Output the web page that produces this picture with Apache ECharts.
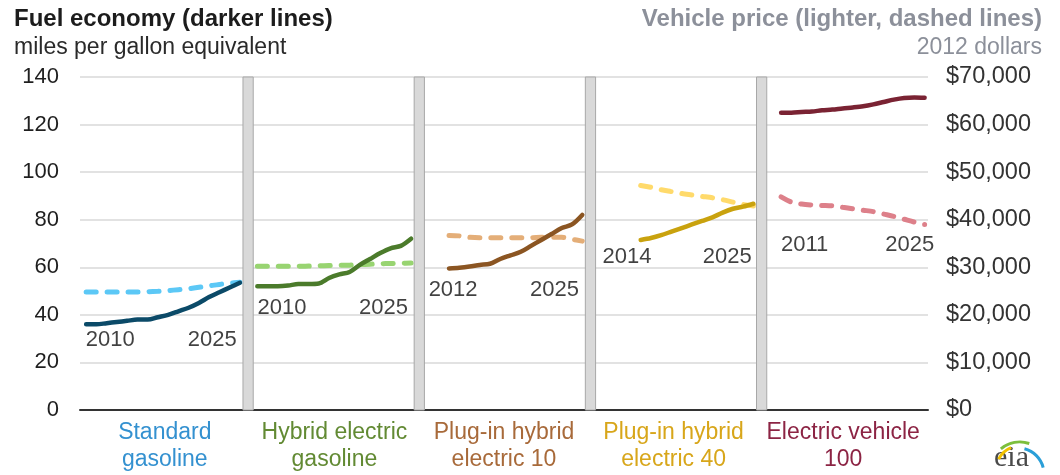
<!DOCTYPE html>
<html><head><meta charset="utf-8">
<script src="https://cdn.jsdelivr.net/npm/echarts@6/dist/echarts.min.js"></script>
<style>html,body{margin:0;padding:0;background:#fff}#c{width:1060px;height:475px}</style>
</head><body><div id="c"></div>
<script>
// ---- data ----
const CATEGORIES = ['Standard\ngasoline', 'Hybrid electric\ngasoline', 'Plug-in hybrid\nelectric 10', 'Plug-in hybrid\nelectric 40', 'Electric vehicle\n100'];
const START_YEARS = [2010, 2010, 2012, 2014, 2011];
const MPG_STD = [36, 36, 36.5, 37, 37.5, 38, 38, 39, 40, 41.5, 43, 45, 47.5, 49.5, 51.5, 53.5];
const PRICE_STD = [24800, 24800, 24800, 24800, 24800, 24800, 24850, 24950, 25100, 25300, 25500, 25800, 26100, 26400, 26650, 26850];
const MPG_HYB = [52, 52, 52, 52.3, 53, 53, 53.2, 55.5, 57, 58, 61, 63.5, 66, 68, 69, 72];
const PRICE_HYB = [30200, 30200, 30200, 30200, 30200, 30250, 30300, 30350, 30400, 30450, 30550, 30650, 30750, 30800, 30850, 30900];
const MPG_PHEV10 = [59.5, 59.8, 60.3, 61, 61.5, 63.5, 65, 66.5, 69, 71.5, 74, 76.5, 78, 82];
const PRICE_PHEV10 = [36700, 36600, 36300, 36200, 36200, 36200, 36200, 36200, 36200, 36300, 36300, 36300, 35900, 35500];
const MPG_PHEV40 = [71.5, 72.3, 73.5, 75, 76.5, 78, 79.5, 81, 83, 84.6, 85.5, 86.7];
const PRICE_PHEV40 = [47200, 46800, 46300, 45900, 45500, 45200, 44900, 44600, 44200, 43700, 43200, 42900];
const MPG_EV = [125, 125, 125.3, 125.5, 126, 126.3, 126.8, 127.2, 127.7, 128.5, 129.5, 130.5, 131.2, 131.4, 131.3];
const PRICE_EV = [44800, 43700, 43300, 43100, 43000, 42900, 42600, 42300, 42000, 41700, 41200, 40700, 40100, 39500, 39000];
const MPG = [MPG_STD, MPG_HYB, MPG_PHEV10, MPG_PHEV40, MPG_EV];
const PRICE = [PRICE_STD, PRICE_HYB, PRICE_PHEV10, PRICE_PHEV40, PRICE_EV];
const LEFT_TICKS = [0, 20, 40, 60, 80, 100, 120, 140];
const RIGHT_TICKS = [0, 10000, 20000, 30000, 40000, 50000, 60000, 70000];
// year tags: [panel, text, year position, level on mpg scale]
const YEAR_TAGS = [
  [0, '2010', 2012.35, 29.5], [0, '2025', 2022.3, 29.5],
  [1, '2010', 2012.4, 43], [1, '2025', 2022.3, 43],
  [2, '2012', 2012.4, 50.6], [2, '2025', 2022.3, 50.6],
  [3, '2014', 2012.67, 64.3], [3, '2025', 2022.45, 64.3],
  [4, '2011', 2013.3, 69.6], [4, '2025', 2023.55, 69.6]
];

// ---- style ----
const DARK = ['#0b4a68', '#4b7b2b', '#8b5522', '#c9a20e', '#7a2333'];
const LIGHT = ['#5cc8f6', '#98d471', '#e4ae78', '#ffda6b', '#dd808a'];
const LABEL_COL = ['#3491d0', '#628a33', '#a86a3a', '#d8a61a', '#8c2444'];
const FONT = "'Liberation Sans', Arial, sans-serif";
const PANEL_SPAN = 16.7;          // panel pitch in year units
const YEAR_ORIGIN = 2009.4;       // year at the left edge of each panel
const X_MAX = 82.73;

const px = (k, year) => k * PANEL_SPAN + (year - YEAR_ORIGIN);

const series = [];
const sepData = [];
for (let k = 1; k < 5; k++) {
  sepData.push([{ xAxis: k * PANEL_SPAN - 0.8, yAxis: 0 }, { xAxis: k * PANEL_SPAN + 0.2, yAxis: 140 }]);
}
for (let k = 0; k < 5; k++) {
  const light = PRICE[k].map((v, i) => [px(k, START_YEARS[k] + i), v]);
  const dark = MPG[k].map((v, i) => [px(k, START_YEARS[k] + i), v]);
  series.push({
    type: 'line', xAxisIndex: 0, yAxisIndex: 1, data: light, symbol: 'none', smooth: 0.3,
    lineStyle: { color: LIGHT[k], width: 5, type: [10, 11], cap: 'round' }, z: 3
  });
  series.push({
    type: 'line', xAxisIndex: 0, yAxisIndex: 0, data: dark, symbol: 'none', smooth: 0.3,
    lineStyle: { color: DARK[k], width: 4.5, cap: 'round' }, z: 4,
    markArea: k === 0 ? { silent: true, itemStyle: { color: '#d9d9d9', borderColor: '#a8a8a8', borderWidth: 1 }, data: sepData } : undefined
  });
}
series.push({
  type: 'scatter', xAxisIndex: 0, yAxisIndex: 0, symbolSize: 0, silent: true,
  data: YEAR_TAGS.map(t => ({ name: t[1], value: [px(t[0], t[2]), t[3]] })),
  label: { show: true, position: 'inside', formatter: p => p.name, color: '#111', fontSize: 22, fontFamily: FONT }
});

const rich = {};
LABEL_COL.forEach((c, i) => { rich['c' + i] = { color: c, fontSize: 23, fontFamily: FONT, lineHeight: 27 }; });

const option = {
  animation: false,
  backgroundColor: '#fff',
  textStyle: { fontFamily: FONT },
  title: [
    { text: 'Fuel economy (darker lines)', left: 9, top: 2, textStyle: { fontSize: 24, fontWeight: 'bold', color: '#1c1c1c', fontFamily: FONT } },
    { text: 'miles per gallon equivalent', left: 9, top: 31, textStyle: { fontSize: 23, fontWeight: 'normal', color: '#2a2a2a', fontFamily: FONT } },
    { text: 'Vehicle price (lighter, dashed lines)', right: 13, top: 2, textStyle: { fontSize: 24, fontWeight: 'bold', color: '#8c909a', fontFamily: FONT } },
    { text: '2012 dollars', right: 13, top: 31, textStyle: { fontSize: 23, fontWeight: 'normal', color: '#8c909a', fontFamily: FONT } }
  ],
  grid: { left: 80, right: 132, top: 77, bottom: 65, containLabel: false },
  xAxis: [
    { type: 'value', min: 0, max: X_MAX, show: false },
    {
      type: 'category', data: CATEGORIES, position: 'bottom', boundaryGap: true,
      axisLine: { show: true, lineStyle: { color: '#333', width: 2 } },
      axisTick: { show: false }, splitLine: { show: false },
      axisLabel: {
        margin: 9, interval: 0,
        formatter: (v, i) => v.split('\n').map(s => '{c' + i + '|' + s + '}').join('\n'),
        rich: rich
      }
    }
  ],
  yAxis: [
    {
      type: 'value', min: 0, max: 140, interval: 20, position: 'left',
      axisLine: { show: false }, axisTick: { show: false },
      splitLine: { show: true, lineStyle: { color: '#d9d9d9', width: 1.5 } },
      axisLabel: { margin: 21, fontSize: 22, color: '#1f1f1f', fontFamily: FONT,
        formatter: v => LEFT_TICKS.includes(v) ? String(v) : '' }
    },
    {
      type: 'value', min: 0, max: 70000, interval: 10000, position: 'right',
      axisLine: { show: false }, axisTick: { show: false }, splitLine: { show: false },
      axisLabel: { margin: 18, fontSize: 23.5, color: '#333', fontFamily: FONT,
        formatter: v => RIGHT_TICKS.includes(v) ? '$' + v.toLocaleString('en-US') : '' }
    }
  ],
  graphic: [
    { type: 'text', left: 994, top: 443, style: { text: 'eia', font: "30px 'Liberation Serif', serif", fill: '#4a4a4a' } },
    { type: 'arc', shape: { cx: 1020, cy: 470, r: 24, startAngle: -Math.PI * 0.85, endAngle: -Math.PI * 0.62 }, style: { stroke: '#f2c200', lineWidth: 3, fill: null } },
    { type: 'arc', shape: { cx: 1020, cy: 472, r: 30, startAngle: -Math.PI * 0.72, endAngle: -Math.PI * 0.4 }, style: { stroke: '#7cbf3c', lineWidth: 3, fill: null } },
    { type: 'arc', shape: { cx: 1018, cy: 474, r: 26, startAngle: -Math.PI * 0.42, endAngle: -Math.PI * 0.08 }, style: { stroke: '#2a9fd8', lineWidth: 3, fill: null } }
  ],
  series: series
};
const chart = echarts.init(document.getElementById('c'), null, { renderer: 'canvas' });
chart.setOption(option);
</script>
</body></html>
